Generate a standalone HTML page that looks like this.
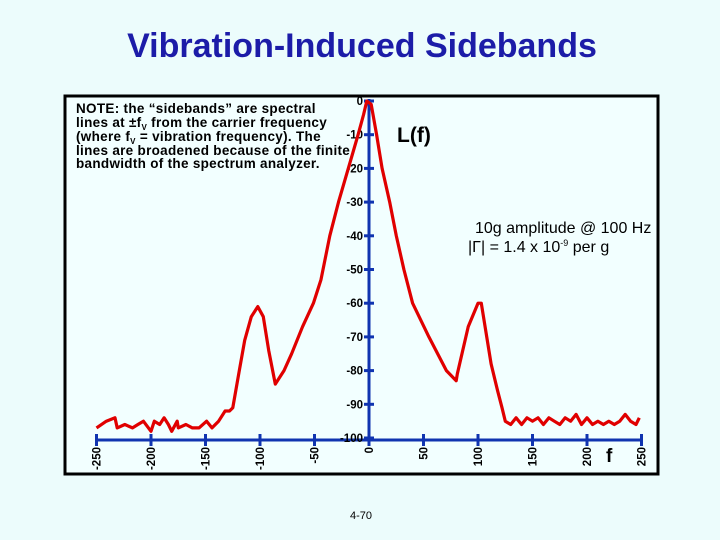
<!DOCTYPE html>
<html><head><meta charset="utf-8"><style>
body{margin:0;background:#ecfcfc;}
svg{display:block;font-family:"Liberation Sans",sans-serif;}
</style></head><body>
<svg id="chart" width="720" height="540" viewBox="0 0 720 540">
<rect x="0" y="0" width="720" height="540" fill="#ecfcfc"/>
<text x="362" y="57" text-anchor="middle" font-size="34" font-weight="bold" fill="#1c1ca8">Vibration-Induced Sidebands</text>
<rect x="65" y="96" width="593" height="378" fill="#f2ffff" stroke="#000" stroke-width="3"/>
<g id="axes"></g>
<path id="curve" fill="none" stroke="#e00000" stroke-width="3.2" stroke-linejoin="round"/>
<g font-size="13.5" font-weight="bold" letter-spacing="0.3">
<text x="76" y="113">NOTE: the “sidebands” are spectral</text>
<text x="76" y="127">lines at ±f<tspan font-size="8" dy="3">V</tspan><tspan dy="-3"> from the carrier frequency</tspan></text>
<text x="76" y="141">(where f<tspan font-size="8" dy="3">V</tspan><tspan dy="-3"> = vibration frequency).  The</tspan></text>
<text x="76" y="155">lines are broadened because of the finite</text>
<text x="76" y="168">bandwidth of the spectrum analyzer.</text>
</g>
<text x="397" y="142" font-size="21" font-weight="bold">L(f)</text>
<text x="475" y="233" font-size="16">10g amplitude @ 100 Hz</text>
<text x="468" y="252" font-size="16">|Γ| = 1.4 x 10<tspan font-size="9" dy="-6">-9</tspan><tspan dy="6"> per g</tspan></text>
<text x="606" y="462" font-size="19" font-weight="bold">f</text>
<text x="361" y="519" font-size="11" text-anchor="middle">4-70</text>
</svg>
<script>
const freqs=[-250,-241,-233,-231,-224,-217,-212,-207,-200,-197,-192,-188,-184,-181,-176,-175,-168,-162,-156,-149,-144,-138,-132,-128,-125,-119,-114,-108,-102,-97,-92,-86,-78,-71,-61,-51,-44,-36,-28,-19,-10,-5,-2,2,7,12,19,25,32,40,55,71,80,81,91,100,103,112,118,122,125,130,135,140,145,150,155,160,165,170,175,180,185,190,195,200,205,210,215,220,225,230,235,240,245,248];
const levels=[-97,-95,-94,-97,-96,-97,-96,-95,-98,-95,-96,-94,-96,-98,-95,-97,-96,-97,-97,-95,-97,-95,-92,-92,-91,-80,-71,-64,-61,-64,-74,-84,-80,-75,-67,-60,-53,-40,-30,-20,-10,-4,0,-1,-10,-20,-30,-40,-50,-60,-70,-80,-83,-81,-67,-60,-60,-78,-86,-91,-95,-96,-94,-96,-94,-95,-94,-96,-94,-95,-96,-94,-95,-93,-96,-94,-96,-95,-96,-95,-96,-95,-93,-95,-96,-94];
const xTicks=[-250,-200,-150,-100,-50,0,50,100,150,200,250];
const yTicks=[0,-10,-20,-30,-40,-50,-60,-70,-80,-90,-100];
const X=f=>369+f*1.09;
const Y=d=>101+(-d)*3.37;
const ns="http://www.w3.org/2000/svg";
const ax=document.getElementById('axes');
function mk(t,a){const e=document.createElementNS(ns,t);for(const k in a)e.setAttribute(k,a[k]);ax.appendChild(e);return e;}
let l=mk('line',{x1:X(-250),x2:X(250),y1:440,y2:440,stroke:'#1034b0','stroke-width':3});


l=mk('line',{x1:X(0),x2:X(0),y1:99,y2:440,stroke:'#1034b0','stroke-width':3});


xTicks.forEach(v=>{const x=X(v);
 const t=mk('line',{x1:x,x2:x,y1:434,y2:446,stroke:'#1034b0','stroke-width':3});
 
 
 const tx=mk('text',{x:0,y:0,transform:`translate(${x+4},447) rotate(-90)`,'text-anchor':'end','font-size':11.5,'font-weight':'bold'});
 tx.textContent=v;
 
 
});
yTicks.forEach(v=>{const y=Y(v);
 const t=mk('line',{x1:X(0)-5,x2:X(0)+5,y1:y,y2:y,stroke:'#1034b0','stroke-width':3});
 
 
 const tx=mk('text',{x:X(0)-6,y:y+4,'text-anchor':'end','font-size':11.5,'font-weight':'bold'});
 tx.textContent=v;
 
 
});
document.getElementById('curve').setAttribute('d',freqs.map((f,i)=>(i?'L':'M')+X(f).toFixed(1)+','+Y(levels[i]).toFixed(1)).join(' '));
</script>
</body></html>
